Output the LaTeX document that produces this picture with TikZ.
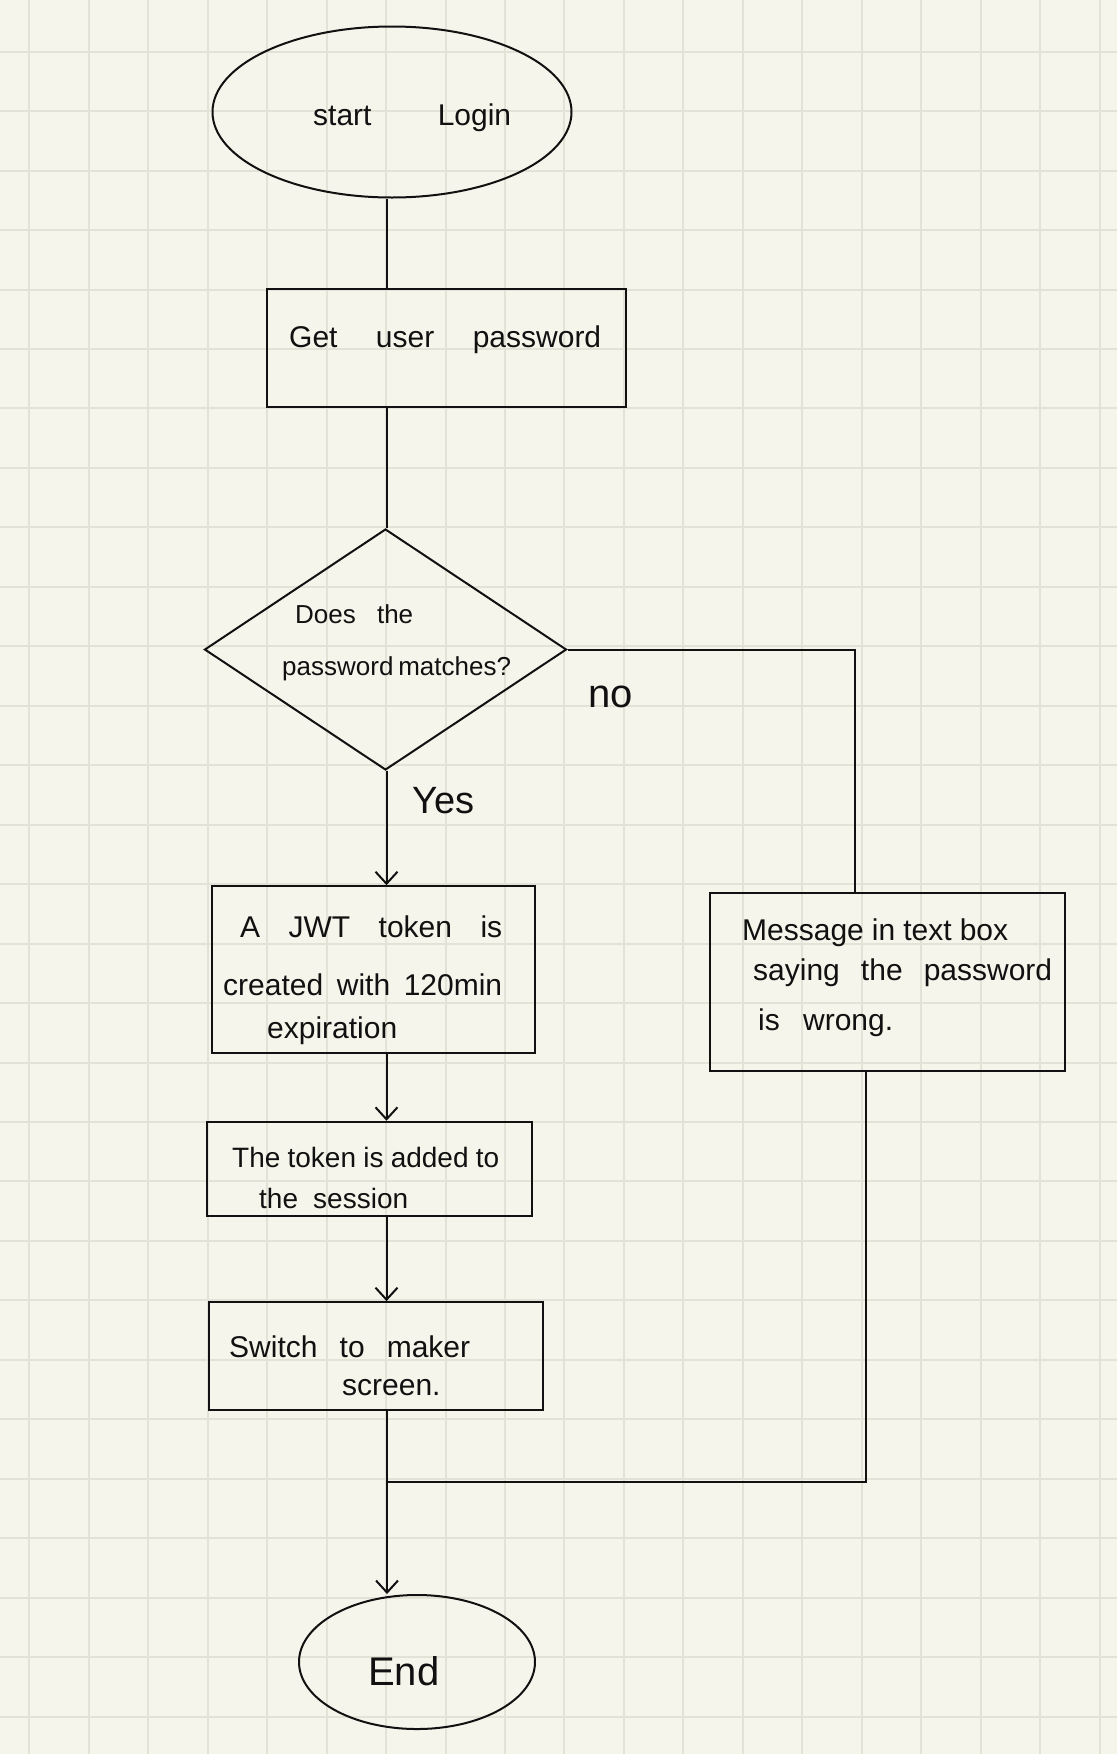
\documentclass[tikz,border=0pt]{standalone}
\usepackage{fontspec}
\setmainfont{Liberation Sans}
\usetikzlibrary{shapes.geometric,arrows.meta}

\definecolor{paper}{HTML}{F5F5EB}
\definecolor{gridline}{HTML}{E2E2D6}
\definecolor{ink}{HTML}{111111}

% one handwritten line, spread to a given width (pt)
\newcommand{\hwline}[2]{\makebox[#1pt][s]{#2}}

\begin{document}
\begin{tikzpicture}[x=1pt,y=-1pt,
  flow/.style={draw=ink, line width=2pt, inner sep=0pt},
  terminal/.style={flow, ellipse},
  procbox/.style={flow, rectangle},
  decision/.style={flow, diamond},
  link/.style={draw=ink, line width=2pt},
  arrowlink/.style={link, -{Straight Barb[length=12pt,width=22pt]}},
  hand/.style={anchor=base west, inner sep=0pt, text=ink, font=\fontsize{30}{36}\selectfont},
  handmid/.style={hand, font=\fontsize{28}{34}\selectfont},
  handsmall/.style={hand, font=\fontsize{26}{31}\selectfont},
  handbig/.style={hand, font=\fontsize{40}{48}\selectfont}]

% paper with square grid
\fill[paper] (0,0) rectangle (1117,1754);
\useasboundingbox (0,0) rectangle (1117,1754);
\foreach \col in {0,1,...,18}
  \draw[gridline, line width=2pt] (29.3+59.46*\col,0) -- (29.3+59.46*\col,1754);
\foreach \row in {0,1,...,28}
  \draw[gridline, line width=2pt] (0,51.7+59.46*\row) -- (1117,51.7+59.46*\row);

% shapes
\node[terminal, minimum width=359pt, minimum height=171pt] (start) at (392,112) {};
\node[procbox, minimum width=359pt, minimum height=118pt] (getpw) at (446.5,348) {};
\node[decision, minimum width=362pt, minimum height=241pt] (decide) at (385.5,649.5) {};
\node[procbox, minimum width=323pt, minimum height=167pt] (jwt) at (373,969.7) {};
\node[procbox, minimum width=355pt, minimum height=178pt] (msg) at (887.5,982) {};
\node[procbox, minimum width=325.6pt, minimum height=94.3pt] (session) at (369.5,1168.9) {};
\node[procbox, minimum width=333.4pt, minimum height=107.7pt] (switch) at (376,1356) {};
\node[terminal, minimum width=236pt, minimum height=134pt] (end) at (417,1662) {};

% routing points
\coordinate (spine) at (386.5,0);
\coordinate (noend) at ([xshift=-32.5pt]msg.north);
\coordinate (msgout) at ([xshift=-21.8pt]msg.south);
\coordinate (merge) at (387,1481.7);

% connectors
\draw[link] (start.south -| spine) -- (getpw.north -| spine);
\draw[link] (getpw.south -| spine) -- (decide.north -| spine);
\draw[arrowlink] (decide.south -| spine) -- (jwt.north -| spine);
\draw[link] (decide.east) -| (noend);
\draw[arrowlink] (jwt.south -| spine) -- (session.north -| spine);
\draw[arrowlink] (session.south -| spine) -- (switch.north -| spine);
\draw[arrowlink] (switch.south -| merge) -- (end.north -| merge);
\draw[link] (msgout) |- (merge);

% texts
\node[hand] (t-start) at (313,125) {\hwline{198}{start Login}};
\node[hand] (t-get) at (289,347) {\hwline{312}{Get user password}};
\node[handsmall] (t-q1) at (295,623) {\hwline{118}{Does the}};
\node[handsmall] (t-q2) at (282,675) {\hwline{226}{password matches?}};
\node[handbig] (t-no) at (588,707) {no};
\node[hand, font=\fontsize{38}{44}\selectfont] (t-yes) at (412,813) {Yes};
\node[hand] (t-j1) at (240,937) {\hwline{262}{A JWT token is}};
\node[hand] (t-j2) at (223,995) {\hwline{279}{created with 120min}};
\node[hand] (t-j3) at (267,1038) {expiration};
\node[hand] (t-m1) at (742,940) {\hwline{266}{Message in text box}};
\node[hand] (t-m2) at (753,980) {\hwline{299}{saying the password}};
\node[hand] (t-m3) at (758,1030) {\hwline{135}{is wrong.}};
\node[handmid] (t-s1) at (232,1167) {\hwline{267}{The token is added to}};
\node[handmid] (t-s2) at (259,1208) {\hwline{149}{the session}};
\node[hand] (t-w1) at (229,1357) {\hwline{241}{Switch to maker}};
\node[hand] (t-w2) at (342,1395) {screen.};
\node[handbig] (t-end) at (368,1685) {End};
\end{tikzpicture}
\end{document}
